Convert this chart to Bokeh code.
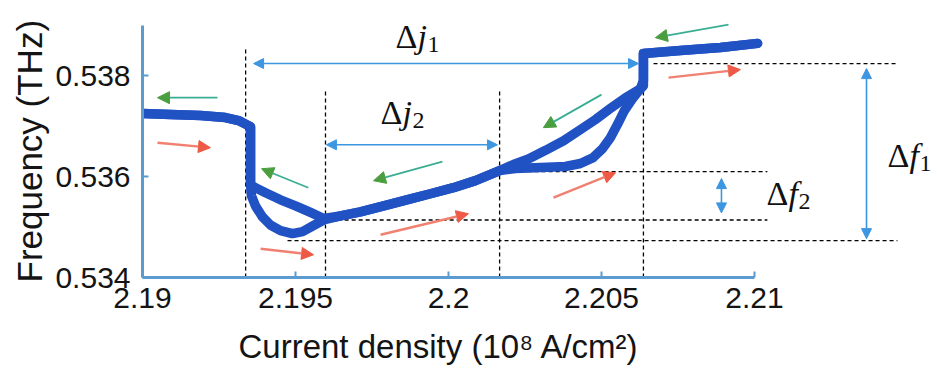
from bokeh.plotting import figure
from bokeh.models import Range1d, FixedTicker, Arrow, NormalHead, Label, Title
from bokeh.embed import file_html
from bokeh.resources import INLINE

# ---------------- data ----------------
# forward sweep (increasing current density)
fwd_j = [2.19000, 2.19092, 2.19190, 2.19271, 2.19314, 2.19340, 2.19353, 2.19353, 2.19356, 2.19369,
         2.19392, 2.19418, 2.19451, 2.19490, 2.19523, 2.19559, 2.19592, 2.19647, 2.19712, 2.19801,
         2.19876, 2.19941, 2.20016, 2.20088, 2.20167, 2.20219, 2.20301, 2.20382, 2.20431, 2.20471,
         2.20503, 2.20529, 2.20552, 2.20575, 2.20601, 2.20627, 2.20637, 2.20637, 2.20758, 2.20889,
         2.21010]
fwd_f = [0.53725, 0.53723, 0.53721, 0.53717, 0.53711, 0.53703, 0.53699, 0.53584, 0.53562, 0.53542,
         0.53520, 0.53504, 0.53493, 0.53487, 0.53491, 0.53503, 0.53514, 0.53522, 0.53530, 0.53544,
         0.53556, 0.53566, 0.53578, 0.53592, 0.53612, 0.53616, 0.53618, 0.53620, 0.53626, 0.53637,
         0.53655, 0.53677, 0.53703, 0.53731, 0.53754, 0.53774, 0.53790, 0.53844, 0.53850, 0.53856,
         0.53864]
# backward sweep (decreasing current density)
bwd_j = [2.21010, 2.20889, 2.20758, 2.20637, 2.20637, 2.20627, 2.20578, 2.20529, 2.20480, 2.20431,
         2.20376, 2.20317, 2.20261, 2.20212, 2.20167, 2.20088, 2.20016, 2.19941, 2.19876, 2.19801,
         2.19712, 2.19647, 2.19592, 2.19549, 2.19500, 2.19451, 2.19402, 2.19369, 2.19353, 2.19353,
         2.19340, 2.19314, 2.19271, 2.19190, 2.19092, 2.19000]
bwd_f = [0.53864, 0.53856, 0.53850, 0.53844, 0.53780, 0.53774, 0.53756, 0.53735, 0.53713, 0.53693,
         0.53671, 0.53652, 0.53635, 0.53624, 0.53612, 0.53592, 0.53578, 0.53566, 0.53556, 0.53544,
         0.53530, 0.53522, 0.53517, 0.53529, 0.53542, 0.53554, 0.53568, 0.53578, 0.53584, 0.53699,
         0.53703, 0.53711, 0.53717, 0.53721, 0.53723, 0.53725]

x_ticks = [2.19, 2.195, 2.2, 2.205, 2.21]
x_tick_labels = ["2.19", "2.195", "2.2", "2.205", "2.21"]
y_ticks = [0.534, 0.536, 0.538]
y_tick_labels = ["0.534", "0.536", "0.538"]
x_title = "Current density (10\u2078 A/cm\u00b2)"
y_title = "Frequency (THz)"

# dashed guide lines
vdash_j = [2.19337, 2.19598, 2.20167, 2.20637]
vdash_top = [0.53854, 0.53774, 0.53774, 0.53854]
vdash_bottom = [0.534, 0.534, 0.534, 0.534]
hdash_f = [0.53824, 0.53610, 0.53514, 0.53473]
hdash_j0 = [2.20670, 2.20167, 2.19592, 2.19474]
hdash_j1 = [2.21467, 2.21042, 2.21042, 2.21467]

# blue double arrows: delta j1, delta j2 (horizontal); delta f1, delta f2 (vertical)
dbl_x0 = [2.19363, 2.19601, 2.21366, 2.20892]
dbl_y0 = [0.53824, 0.53663, 0.53814, 0.53596]
dbl_x1 = [2.20621, 2.20160, 2.21366, 2.20892]
dbl_y1 = [0.53824, 0.53663, 0.53477, 0.53528]

# green (backward) arrows
g_x0 = [2.19245, 2.19542, 2.19980, 2.20500, 2.20915]
g_y0 = [0.537564, 0.535779, 0.536295, 0.537624, 0.539012]
g_x1 = [2.19049, 2.19389, 2.19755, 2.20310, 2.20676]
g_y1 = [0.537564, 0.536156, 0.535918, 0.536970, 0.538754]
# red (forward) arrows
r_x0 = [2.19049, 2.19386, 2.19778, 2.20343, 2.20719]
r_y0 = [0.536672, 0.534569, 0.534847, 0.535581, 0.537961]
r_x1 = [2.19222, 2.19559, 2.20065, 2.20546, 2.20954]
r_y1 = [0.536573, 0.534450, 0.535263, 0.536077, 0.538120]

# annotation labels
lab_letters = ["j", "j", "f", "f"]
lab_subs = ["1", "2", "1", "2"]
lab_x = [2.198268, 2.197778, 2.214346, 2.210392]
lab_y = [0.538536, 0.537029, 0.536176, 0.535422]

# ---------------- figure ----------------
p = figure(width=937, height=382, output_backend="svg", toolbar_location=None,
           x_range=Range1d(2.19, 2.21598), y_range=Range1d(0.534, 0.53949),
           min_border_left=142, min_border_right=0, min_border_top=0, min_border_bottom=105)
p.outline_line_color = None
p.xgrid.visible = False
p.ygrid.visible = False
p.background_fill_color = "white"
p.border_fill_color = "white"

axis_col = "#5b9bd0"
txt_col = "#141414"
for ax in (p.xaxis[0], p.yaxis[0]):
    ax.axis_line_color = axis_col
    ax.axis_line_width = 3
    ax.major_tick_line_color = axis_col
    ax.major_tick_line_width = 2
    ax.major_tick_in = 6
    ax.major_tick_out = 0
    ax.minor_tick_line_color = None
    ax.major_label_text_font = "Liberation Sans"
    ax.major_label_text_font_size = "30px"
    ax.major_label_text_color = txt_col

p.xaxis.bounds = (2.19, 2.21)
p.yaxis.bounds = (0.534, 0.539)
p.xaxis.ticker = FixedTicker(ticks=x_ticks)
p.yaxis.ticker = FixedTicker(ticks=y_ticks)
p.xaxis.major_label_overrides = dict(zip(x_ticks, x_tick_labels))
p.yaxis.major_label_overrides = dict(zip(y_ticks, y_tick_labels))
p.xaxis.major_label_standoff = 10
p.yaxis.major_label_standoff = 12

# axis titles placed as side-panel titles so they centre on the drawn axis spans
p.add_layout(Title(text=x_title, align="left", offset=96, standoff=30,
                   text_font="Liberation Sans", text_font_size="33px",
                   text_font_style="normal", text_color=txt_col), "below")
p.add_layout(Title(text=y_title, align="left", offset=-5, standoff=8,
                   text_font="Liberation Sans", text_font_size="35px",
                   text_font_style="normal", text_color=txt_col), "left")

# dashed guides
p.segment(x0=vdash_j, y0=vdash_bottom, x1=vdash_j, y1=vdash_top,
          line_color="black", line_width=1.3, line_dash="4 3")
p.segment(x0=hdash_j0, y0=hdash_f, x1=hdash_j1, y1=hdash_f,
          line_color="black", line_width=1.3, line_dash="4 3")

# data curves
curve_col = "#2152c4"
p.line(fwd_j, fwd_f, line_color=curve_col, line_width=9.5, line_join="round", line_cap="round")
p.line(bwd_j, bwd_f, line_color=curve_col, line_width=9.5, line_join="round", line_cap="round")

# blue double arrows
blue = "#3c96e0"
for x0, y0, x1, y1 in zip(dbl_x0, dbl_y0, dbl_x1, dbl_y1):
    p.add_layout(Arrow(x_start=x0, y_start=y0, x_end=x1, y_end=y1,
                       line_color=blue, line_width=1.6,
                       start=NormalHead(size=10, fill_color=blue, line_color=blue),
                       end=NormalHead(size=10, fill_color=blue, line_color=blue)))

green_line, green_head = "#3aae92", "#4a9e3f"
for x0, y0, x1, y1 in zip(g_x0, g_y0, g_x1, g_y1):
    p.add_layout(Arrow(x_start=x0, y_start=y0, x_end=x1, y_end=y1,
                       line_color=green_line, line_width=1.8,
                       end=NormalHead(size=12, fill_color=green_head, line_color=green_head)))

red_line, red_head = "#f08070", "#ee5a45"
for x0, y0, x1, y1 in zip(r_x0, r_y0, r_x1, r_y1):
    p.add_layout(Arrow(x_start=x0, y_start=y0, x_end=x1, y_end=y1,
                       line_color=red_line, line_width=2.4,
                       end=NormalHead(size=12, fill_color=red_head, line_color=red_head)))

# delta labels
for lx, ly, let, sub in zip(lab_x, lab_y, lab_letters, lab_subs):
    common = dict(x=lx, y=ly, x_units="data", y_units="data", text_font="Liberation Serif",
                  text_color="#111111", text_baseline="alphabetic", text_align="left")
    p.add_layout(Label(text="\u0394", text_font_size="34px", y_offset=12, **common))
    p.add_layout(Label(text=let, text_font_size="34px", text_font_style="italic",
                       x_offset=22, y_offset=12, **common))
    p.add_layout(Label(text=sub, text_font_size="24px", x_offset=32, y_offset=4, **common))

open("out.html", "w").write(file_html(p, INLINE))
